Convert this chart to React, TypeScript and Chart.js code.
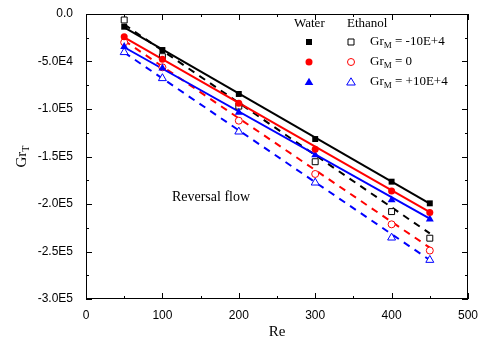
import React, { useEffect, useRef } from 'react';
import { Chart, registerables } from 'chart.js';

Chart.register(...registerables);

// ---- data ----
const re = [50, 100, 200, 300, 400, 450];
const waterNeg = [-13400, -37900, -84200, -131600, -176500, -199300];
const waterZero = [-23900, -47600, -94000, -142400, -186300, -209000];
const waterPos = [-34400, -57000, -103500, -148400, -195800, -216000];
const ethNeg = [-6300, -44900, -97000, -155500, -208000, -236000];
const ethZero = [-29800, -56100, -112300, -168400, -221400, -249000];
const ethPos = [-40300, -67700, -123900, -177600, -235500, -259000];

const fitRe = [50, 450];
const waterNegFit = [-14000, -199500];
const waterZeroFit = [-24500, -208500];
const waterPosFit = [-35000, -215500];
const ethNegFit = [-11000, -231000];
const ethZeroFit = [-28000, -246000];
const ethPosFit = [-40500, -259000];

const legendLabels = ['-10E+4', '0', '+10E+4'];
const legendColors = ['#000000', '#ff0000', '#0000ff'];
const legendStyles = ['rect', 'circle', 'triangle'];

const SERIF = "'Liberation Serif', 'Times New Roman', serif";
const SANS = "'Liberation Sans', Arial, sans-serif";

const pts = (xs: number[], ys: number[]) => xs.map((x, i) => ({ x, y: ys[i] }));

function fmtY(v: number): string {
  if (v === 0) return '0.0';
  const a = Math.abs(v);
  const e = Math.floor(Math.log10(a) + 1e-9);
  const m = (a / Math.pow(10, e)).toFixed(1);
  return (v < 0 ? '-' : '') + m + 'E' + e;
}

function drawMarker(ctx: CanvasRenderingContext2D, style: string, x: number, y: number, color: string, filled: boolean) {
  ctx.save();
  ctx.beginPath();
  if (style === 'rect') {
    ctx.rect(x - 3, y - 3, 6, 6);
  } else if (style === 'circle') {
    ctx.arc(x, y, 3.5, 0, Math.PI * 2);
  } else {
    ctx.moveTo(x, y - 4.2);
    ctx.lineTo(x + 4.3, y + 3);
    ctx.lineTo(x - 4.3, y + 3);
    ctx.closePath();
  }
  if (filled) {
    ctx.fillStyle = color;
    ctx.fill();
  } else {
    ctx.fillStyle = '#fff';
    ctx.fill();
    ctx.strokeStyle = color;
    ctx.lineWidth = 1;
    ctx.stroke();
  }
  ctx.restore();
}

const decorPlugin = {
  id: 'decor',
  afterDraw(chart: any) {
    const ctx: CanvasRenderingContext2D = chart.ctx;
    const { left, right, top, bottom } = chart.chartArea;
    const xs = chart.scales.x;
    const ys = chart.scales.y;
    ctx.save();
    // frame
    ctx.strokeStyle = '#000';
    ctx.lineWidth = 1;
    ctx.strokeRect(left + 0.5, top + 0.5, right - left - 1, bottom - top - 1);
    // x ticks (inside, bottom and top)
    for (let v = 0; v <= 500; v += 50) {
      const px = Math.round(xs.getPixelForValue(v)) + 0.5;
      const len = v % 100 === 0 ? 6 : 3;
      ctx.beginPath();
      ctx.moveTo(px, bottom);
      ctx.lineTo(px, bottom - len);
      ctx.moveTo(px, top);
      ctx.lineTo(px, top + len);
      ctx.stroke();
    }
    // y ticks (inside, left and right)
    for (let v = 0; v >= -300000; v -= 25000) {
      const py = Math.round(ys.getPixelForValue(v)) + 0.5;
      const len = v % 50000 === 0 ? 6 : 3;
      ctx.beginPath();
      ctx.moveTo(left, py);
      ctx.lineTo(left + len, py);
      ctx.moveTo(right, py);
      ctx.lineTo(right - len, py);
      ctx.stroke();
    }
    // axis titles
    ctx.fillStyle = '#000';
    ctx.font = `15px ${SERIF}`;
    ctx.textAlign = 'center';
    ctx.textBaseline = 'middle';
    ctx.fillText('Re', (left + right) / 2, 332);

    ctx.save();
    ctx.translate(22, (top + bottom) / 2);
    ctx.rotate(-Math.PI / 2);
    ctx.textAlign = 'left';
    ctx.font = `15px ${SERIF}`;
    const grW = ctx.measureText('Gr').width;
    ctx.font = `10px ${SERIF}`;
    const tW = ctx.measureText('T').width;
    const startX = -(grW + tW) / 2;
    ctx.font = `15px ${SERIF}`;
    ctx.fillText('Gr', startX, 0);
    ctx.font = `10px ${SERIF}`;
    ctx.fillText('T', startX + grW, 4);
    ctx.restore();

    // annotation
    ctx.font = `14px ${SERIF}`;
    ctx.textAlign = 'center';
    ctx.textBaseline = 'middle';
    ctx.fillText('Reversal flow', 211, 197);

    // legend
    ctx.font = `13px ${SERIF}`;
    ctx.textAlign = 'left';
    ctx.fillText('Water', 294, 24);
    ctx.fillText('Ethanol', 347, 24);
    const rowsY = [42, 62, 82];
    for (let i = 0; i < legendLabels.length; i++) {
      const y = rowsY[i];
      drawMarker(ctx, legendStyles[i], 309, y, legendColors[i], true);
      drawMarker(ctx, legendStyles[i], 351, y, legendColors[i], false);
      ctx.fillStyle = '#000';
      ctx.font = `13px ${SERIF}`;
      ctx.textAlign = 'left';
      ctx.textBaseline = 'middle';
      let x = 370;
      ctx.fillText('Gr', x, y);
      x += ctx.measureText('Gr').width;
      ctx.font = `9px ${SERIF}`;
      ctx.fillText('M', x, y + 4);
      x += ctx.measureText('M').width;
      ctx.font = `13px ${SERIF}`;
      ctx.fillText(' = ' + legendLabels[i], x, y);
    }
    ctx.restore();
  },
};

function lineDs(ys: number[], color: string, dashed: boolean) {
  return {
    data: pts(fitRe, ys),
    showLine: true,
    borderColor: color,
    borderWidth: 2,
    borderDash: dashed ? [7, 6] : [],
    pointRadius: 0,
    fill: false,
    order: 2,
  };
}

function markDs(ys: number[], color: string, style: string, filled: boolean) {
  const r = style === 'rect' ? 4.2 : style === 'circle' ? 3.5 : 4.6;
  return {
    data: pts(re, ys),
    showLine: false,
    pointStyle: style,
    pointRadius: r,
    pointBackgroundColor: filled ? color : '#ffffff',
    pointBorderColor: color,
    pointBorderWidth: filled ? 0 : 1,
    order: 1,
  };
}

export default function App() {
  const ref = useRef<HTMLCanvasElement | null>(null);
  useEffect(() => {
    document.body.style.margin = '0';
    const canvas = ref.current;
    if (!canvas) return;
    const chart = new Chart(canvas, {
      type: 'scatter',
      data: {
        datasets: [
          lineDs(waterNegFit, '#000000', false),
          lineDs(waterZeroFit, '#ff0000', false),
          lineDs(waterPosFit, '#0000ff', false),
          lineDs(ethNegFit, '#000000', true),
          lineDs(ethZeroFit, '#ff0000', true),
          lineDs(ethPosFit, '#0000ff', true),
          markDs(waterNeg, '#000000', 'rect', true),
          markDs(waterZero, '#ff0000', 'circle', true),
          markDs(waterPos, '#0000ff', 'triangle', true),
          markDs(ethNeg, '#000000', 'rect', false),
          markDs(ethZero, '#ff0000', 'circle', false),
          markDs(ethPos, '#0000ff', 'triangle', false),
        ] as any,
      },
      options: {
        animation: false,
        responsive: false,
        devicePixelRatio: 1,
        layout: { padding: { left: 0, right: 15, top: 14, bottom: 0 } },
        plugins: { legend: { display: false }, tooltip: { enabled: false } },
        scales: {
          x: {
            type: 'linear',
            min: 0,
            max: 500,
            grid: { display: false, drawTicks: false },
            border: { display: false },
            ticks: {
              stepSize: 100,
              color: '#000',
              font: { family: SANS, size: 12 },
              padding: 9,
              maxRotation: 0,
            },
            afterFit: (s: any) => {
              s.height = 48;
              s.paddingLeft = 0;
              s.paddingRight = 0;
            },
          },
          y: {
            type: 'linear',
            min: -300000,
            max: 0,
            grid: { display: false, drawTicks: false },
            border: { display: false },
            ticks: {
              stepSize: 50000,
              color: '#000',
              font: { family: SANS, size: 12 },
              padding: 13,
              callback: (v: any) => fmtY(Number(v)),
            },
            afterFit: (s: any) => {
              s.width = 86;
              s.paddingTop = 0;
              s.paddingBottom = 0;
            },
          },
        },
      } as any,
      plugins: [decorPlugin],
    });
    return () => chart.destroy();
  }, []);
  return (
    <div style={{ width: 483, height: 347, background: '#fff' }}>
      <canvas ref={ref} width={483} height={347} />
    </div>
  );
}
